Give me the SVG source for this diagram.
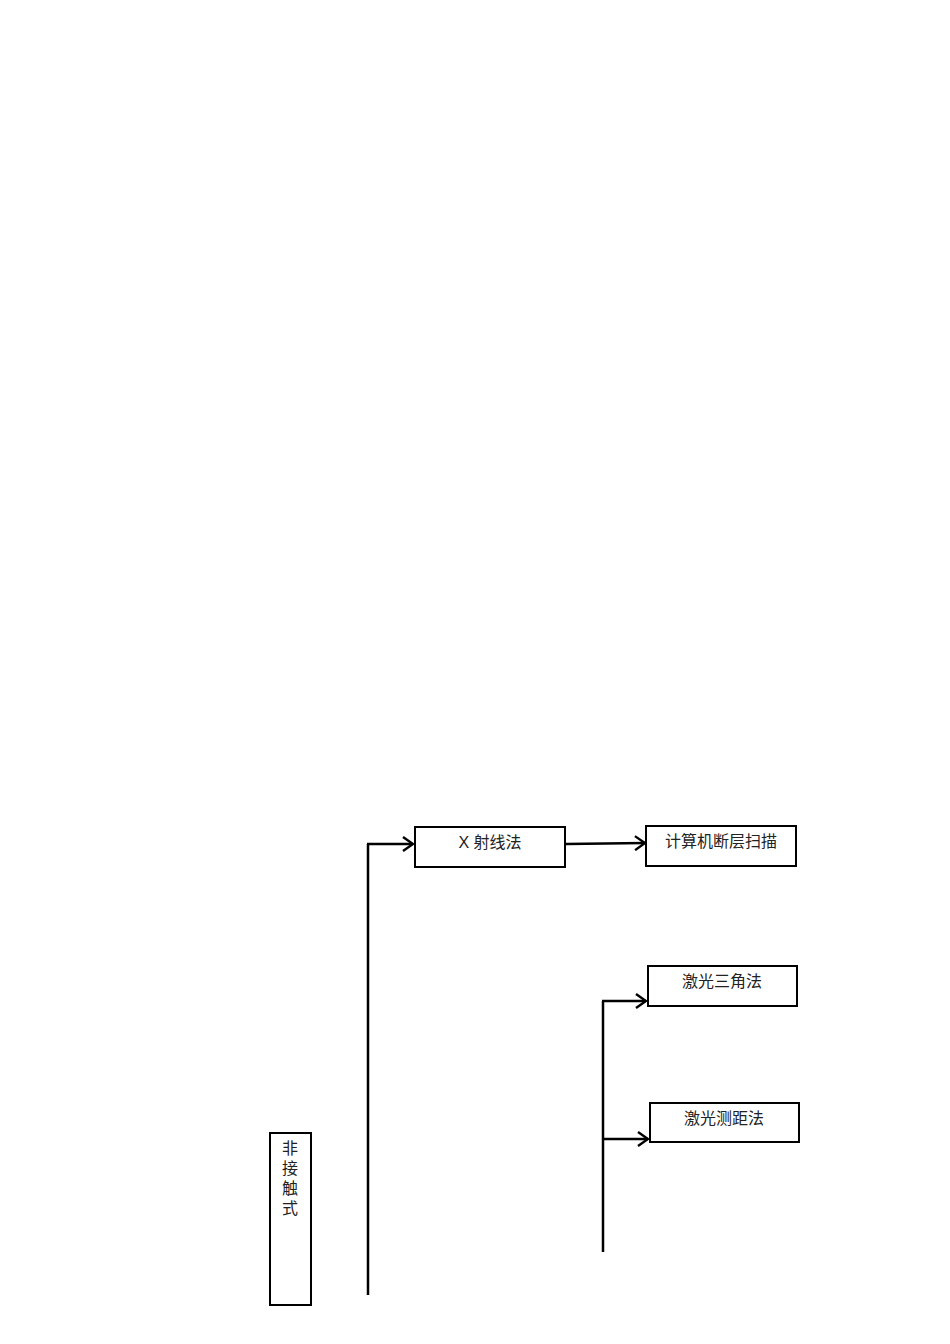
<svg xmlns="http://www.w3.org/2000/svg" width="950" height="1344" viewBox="0 0 950 1344">
<style>
.box{fill:#fff;stroke:#000;stroke-width:2}
.t{font-family:"Liberation Sans","Noto Sans CJK SC",sans-serif;font-size:16px;fill:#222;text-anchor:middle}
.ln{stroke:#000;stroke-width:2.5;fill:none}
</style>
<defs>
<marker id="ah" markerWidth="14" markerHeight="16" refX="12" refY="8" orient="auto" markerUnits="userSpaceOnUse">
<path d="M2,1 L12,8 L2,15" fill="none" stroke="#000" stroke-width="2.4"/>
</marker>
</defs>
<rect width="950" height="1344" fill="#fff"/>
<g id="connectors">
<path class="ln" d="M368,1295 L368,844"/>
<path class="ln" d="M367,844 L413,844" marker-end="url(#ah)"/>
<path class="ln" d="M566,844 L645,843" marker-end="url(#ah)"/>
<path class="ln" d="M603,1252 L603,1001"/>
<path class="ln" d="M602,1001 L646,1001" marker-end="url(#ah)"/>
<path class="ln" d="M602,1139 L648,1139" marker-end="url(#ah)"/>
</g>
<g id="xray">
<rect class="box" x="415" y="827" width="150" height="40"/>
<text class="t" x="490" y="848">X 射线法</text>
</g>
<g id="ct">
<rect class="box" x="646" y="826" width="150" height="40"/>
<text class="t" x="721" y="847">计算机断层扫描</text>
</g>
<g id="triangulation">
<rect class="box" x="648" y="966" width="149" height="40"/>
<text class="t" x="722" y="987">激光三角法</text>
</g>
<g id="ranging">
<rect class="box" x="650" y="1103" width="149" height="39"/>
<text class="t" x="724" y="1124">激光测距法</text>
</g>
<g id="noncontact">
<rect class="box" x="270" y="1133" width="41" height="172"/>
<text class="t" x="290" y="1154">非</text>
<text class="t" x="290" y="1174">接</text>
<text class="t" x="290" y="1194">触</text>
<text class="t" x="290" y="1214">式</text>
</g>
</svg>
